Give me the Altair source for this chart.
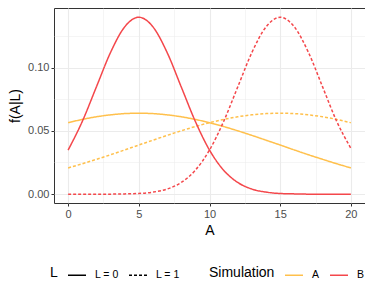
import altair as alt
import pandas as pd

# A values (x positions of the curves)
a_grid = [0, 1, 2, 3, 4, 5, 6, 7, 8, 9, 10, 11, 12, 13, 14, 15, 16, 17, 18, 19, 20]

# f(A|L)
sim_a_l0 = [0.0564, 0.0590, 0.0611, 0.0626, 0.0636, 0.0639, 0.0636, 0.0626, 0.0611, 0.0590, 0.0564,
            0.0534, 0.0500, 0.0464, 0.0426, 0.0388, 0.0349, 0.0311, 0.0275, 0.0240, 0.0207]
sim_a_l1 = [0.0207, 0.0240, 0.0275, 0.0311, 0.0349, 0.0388, 0.0426, 0.0464, 0.0500, 0.0534, 0.0564,
            0.0590, 0.0611, 0.0626, 0.0636, 0.0639, 0.0636, 0.0626, 0.0611, 0.0590, 0.0564]
sim_b_l0 = [0.0348, 0.0574, 0.0847, 0.1119, 0.1321, 0.1397, 0.1321, 0.1119, 0.0847, 0.0574, 0.0348,
            0.0189, 0.0092, 0.0040, 0.0016, 0.0005, 0.0002, 0.0000, 0.0000, 0.0000, 0.0000]
sim_b_l1 = [0.0000, 0.0000, 0.0000, 0.0000, 0.0002, 0.0005, 0.0016, 0.0040, 0.0092, 0.0189, 0.0348,
            0.0574, 0.0847, 0.1119, 0.1321, 0.1397, 0.1321, 0.1119, 0.0847, 0.0574, 0.0362]

sim_labels = ["A", "B"]
l_labels = ["L = 0", "L = 1"]
sim_colors = ["#FFC04C", "#F4474B"]

x_ticks = [0, 2.5, 5, 7.5, 10, 12.5, 15, 17.5, 20]
y_ticks = [0, 0.025, 0.05, 0.075, 0.1, 0.125]

rows = []
for sim, lab, vals in [("A", "L = 0", sim_a_l0), ("A", "L = 1", sim_a_l1),
                       ("B", "L = 0", sim_b_l0), ("B", "L = 1", sim_b_l1)]:
    for x, y in zip(a_grid, vals):
        rows.append({"A": x, "f": y, "Simulation": sim, "L": lab, "series": sim + lab})
df = pd.DataFrame(rows)

FONT = "Liberation Sans"

legend_common = dict(orient="none", legendY=257, direction="horizontal",
                     titleOrient="left", titlePadding=9, labelOffset=8,
                     columnPadding=7, symbolType="stroke", symbolSize=324,
                     symbolStrokeWidth=1.5)

chart = alt.Chart(df).mark_line(strokeWidth=1.5, interpolate="monotone").encode(
    x=alt.X("A:Q", title="A",
            scale=alt.Scale(domain=[-1, 21], nice=False, zero=False),
            axis=alt.Axis(values=x_ticks,
                          labelExpr="datum.value % 5 == 0 ? datum.label : ''",
                          gridWidth={"condition": {"test": "datum.value % 5 == 0", "value": 1.1}, "value": 0.5},
                          tickOpacity={"condition": {"test": "datum.value % 5 == 0", "value": 1}, "value": 0},
                          )),
    y=alt.Y("f:Q", title="f(A|L)",
            scale=alt.Scale(domain=[-0.007, 0.147], nice=False, zero=False),
            axis=alt.Axis(values=y_ticks, format=".2f",
                          labelExpr="(round(datum.value*1000) % 50 == 0) ? datum.label : ''",
                          gridWidth={"condition": {"test": "round(datum.value*1000) % 50 == 0", "value": 1.1}, "value": 0.5},
                          tickOpacity={"condition": {"test": "round(datum.value*1000) % 50 == 0", "value": 1}, "value": 0},
                          )),
    color=alt.Color("Simulation:N",
                    scale=alt.Scale(domain=sim_labels, range=sim_colors),
                    legend=alt.Legend(legendX=155, **legend_common)),
    strokeDash=alt.StrokeDash("L:N",
                              scale=alt.Scale(domain=l_labels, range=[[1, 0], [3, 2]]),
                              legend=alt.Legend(legendX=-4, symbolStrokeColor="black", **legend_common)),
    detail="series:N",
).properties(
    width=311,
    height=195,
    autosize=alt.AutoSizeParams(type="none"),
    padding={"left": 46, "top": 0, "right": 0, "bottom": 80},
).configure(
    font=FONT,
).configure_view(
    stroke="#333333", strokeWidth=1,
).configure_axis(
    domain=False,
    grid=True,
    gridColor="#EBEBEB",
    tickColor="#333333",
    tickSize=3,
    labelColor="#4D4D4D",
    labelFontSize=11,
    labelFont=FONT,
    labelPadding=2,
    titleFont=FONT,
    titleFontSize=14,
    titleFontWeight="normal",
    titleColor="black",
).configure_axisX(
    titlePadding=4,
).configure_axisY(
    titlePadding=5,
).configure_legend(
    titleFont=FONT,
    titleFontSize=14,
    titleFontWeight="normal",
    titleColor="black",
    labelFont=FONT,
    labelFontSize=10.5,
    labelColor="black",
)

chart.save("out.html", embed_options={"renderer": "svg", "actions": False})
